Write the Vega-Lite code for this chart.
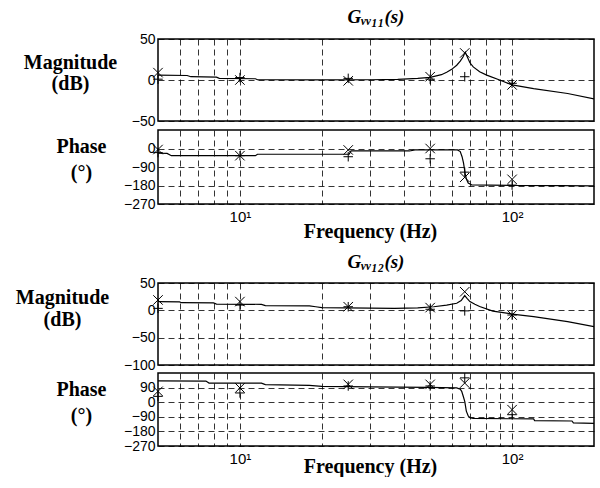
{
  "$schema": "https://vega.github.io/schema/vega-lite/v6.json",
  "padding": {"left": 14, "top": 7, "right": 4, "bottom": 0},
  "background": "white",
  "spacing": 10,
  "config": {
    "view": {"stroke": "black", "strokeWidth": 1.5},
    "axis": {
      "grid": true, "gridColor": "black", "gridDash": [6, 4], "gridWidth": 0.8, "gridOpacity": 1,
      "domain": false, "ticks": false,
      "labelFont": "Liberation Sans", "labelFontSize": 14, "labelColor": "black", "labelPadding": 3,
      "titleFont": "Liberation Serif", "titleFontWeight": "bold", "titleFontSize": 20, "titleColor": "black"
    },
    "title": {"font": "Liberation Serif", "fontSize": 19, "fontWeight": "bold", "fontStyle": "italic", "color": "black", "anchor": "middle", "baseline": "alphabetic", "frame": "group", "offset": 5, "dx": 0},
    "line": {"color": "black", "strokeWidth": 1.2},
    "point": {"filled": false, "color": "black", "strokeWidth": 1, "size": 90, "opacity": 1}
  },
  "datasets": {
    "mag1": [
      {"f": 5, "v": 6}, {"f": 6.4, "v": 5.5}, {"f": 6.6, "v": 4}, {"f": 8.2, "v": 3.5}, {"f": 8.4, "v": 2}, {"f": 11.4, "v": 1.5}, {"f": 11.6, "v": 0.3}, {"f": 20, "v": 0.2}, {"f": 30, "v": 0.3}, {"f": 38, "v": 0.8}, {"f": 45, "v": 2}, {"f": 50, "v": 3.3}, {"f": 55, "v": 6.5}, {"f": 57.5, "v": 9.5}, {"f": 60, "v": 13}, {"f": 62.6, "v": 18}, {"f": 64.5, "v": 23}, {"f": 66, "v": 28}, {"f": 67.3, "v": 34}, {"f": 68.5, "v": 28}, {"f": 70, "v": 21}, {"f": 72, "v": 16}, {"f": 76, "v": 10}, {"f": 80.7, "v": 6}, {"f": 90, "v": 0}, {"f": 100, "v": -6}, {"f": 120, "v": -10.5}, {"f": 160, "v": -16.5}, {"f": 200, "v": -23}
    ],
    "ph1": [
      {"f": 5, "v": -23}, {"f": 5.4, "v": -24}, {"f": 5.6, "v": -35}, {"f": 11.4, "v": -35}, {"f": 11.6, "v": -28}, {"f": 25.2, "v": -28}, {"f": 25.6, "v": -12}, {"f": 42, "v": -12}, {"f": 44, "v": -7}, {"f": 63, "v": -7}, {"f": 64.5, "v": -15}, {"f": 65.5, "v": -40}, {"f": 66.3, "v": -70}, {"f": 67.2, "v": -120}, {"f": 68, "v": -150}, {"f": 69, "v": -168}, {"f": 71, "v": -177}, {"f": 100, "v": -180}, {"f": 150, "v": -181}, {"f": 200, "v": -182}
    ],
    "mag2": [
      {"f": 5, "v": 15.8}, {"f": 6, "v": 15.5}, {"f": 6.1, "v": 14}, {"f": 8, "v": 13.5}, {"f": 8.2, "v": 11.5}, {"f": 12, "v": 11}, {"f": 12.4, "v": 8.5}, {"f": 18, "v": 8}, {"f": 19, "v": 6.6}, {"f": 20, "v": 5}, {"f": 37, "v": 3.6}, {"f": 45, "v": 4.5}, {"f": 51.5, "v": 6.6}, {"f": 57.5, "v": 9.6}, {"f": 62.6, "v": 13}, {"f": 65, "v": 18}, {"f": 67, "v": 27}, {"f": 68.3, "v": 22}, {"f": 70, "v": 16}, {"f": 73, "v": 11}, {"f": 76, "v": 7}, {"f": 85, "v": -1.3}, {"f": 100, "v": -6.8}, {"f": 120, "v": -11.6}, {"f": 160, "v": -20.7}, {"f": 200, "v": -30}
    ],
    "ph2": [
      {"f": 5, "v": 132}, {"f": 7.5, "v": 130}, {"f": 7.7, "v": 118}, {"f": 12, "v": 117}, {"f": 12.4, "v": 108}, {"f": 18, "v": 104}, {"f": 20, "v": 98}, {"f": 30, "v": 94}, {"f": 49, "v": 92}, {"f": 62.6, "v": 88}, {"f": 64.5, "v": 80}, {"f": 65.3, "v": 67}, {"f": 66.2, "v": 35}, {"f": 67, "v": 5}, {"f": 67.9, "v": -55}, {"f": 69, "v": -85}, {"f": 70, "v": -95}, {"f": 72, "v": -100}, {"f": 100, "v": -102}, {"f": 120, "v": -103}, {"f": 121, "v": -113}, {"f": 166, "v": -116}, {"f": 168, "v": -128}, {"f": 200, "v": -130}
    ],
    "mk1m": [
      {"f": 5, "v": 9, "m": "x"}, {"f": 5, "v": 1, "m": "+"}, {"f": 10, "v": 0, "m": "x"}, {"f": 10, "v": 3, "m": "+"}, {"f": 25, "v": -1, "m": "x"}, {"f": 25, "v": 2, "m": "+"}, {"f": 50, "v": 4, "m": "x"}, {"f": 50, "v": 1, "m": "+"}, {"f": 67, "v": 33, "m": "x"}, {"f": 67, "v": 4, "m": "+"}, {"f": 100, "v": -6, "m": "x"}, {"f": 100, "v": -4, "m": "+"}
    ],
    "mk1p": [
      {"f": 5, "v": -5, "m": "x"}, {"f": 5, "v": -20, "m": "+"}, {"f": 10, "v": -35, "m": "x"}, {"f": 10, "v": -35, "m": "+"}, {"f": 25, "v": -7, "m": "x"}, {"f": 25, "v": -40, "m": "+"}, {"f": 50, "v": 0, "m": "x"}, {"f": 50, "v": -50, "m": "+"}, {"f": 67, "v": -140, "m": "x"}, {"f": 67, "v": -115, "m": "+"}, {"f": 100, "v": -150, "m": "x"}, {"f": 100, "v": -178, "m": "+"}
    ],
    "mk2m": [
      {"f": 5, "v": 19, "m": "x"}, {"f": 5, "v": 3.6, "m": "+"}, {"f": 10, "v": 16, "m": "x"}, {"f": 10, "v": 9.6, "m": "+"}, {"f": 25, "v": 6.6, "m": "x"}, {"f": 25, "v": 6.6, "m": "+"}, {"f": 50, "v": 5, "m": "x"}, {"f": 50, "v": 2, "m": "+"}, {"f": 67, "v": 34, "m": "x"}, {"f": 67, "v": -1, "m": "+"}, {"f": 100, "v": -8.6, "m": "x"}, {"f": 100, "v": -8.6, "m": "+"}
    ],
    "mk2p": [
      {"f": 5, "v": 67, "m": "x"}, {"f": 5, "v": 36, "m": "+"}, {"f": 10, "v": 88, "m": "x"}, {"f": 10, "v": 57, "m": "+"}, {"f": 25, "v": 110, "m": "x"}, {"f": 25, "v": 100, "m": "+"}, {"f": 50, "v": 110, "m": "x"}, {"f": 50, "v": 100, "m": "+"}, {"f": 67, "v": 118, "m": "x"}, {"f": 67, "v": 150, "m": "+"}, {"f": 100, "v": -46, "m": "x"}, {"f": 100, "v": -77, "m": "+"}
    ]
  },
  "vconcat": [
    {
      "spacing": 0,
      "vconcat": [
        {
          "width": 436, "height": 82,
          "title": {"text": "Gᵥᵥ₁₁(s)"},
          "encoding": {
            "x": {"field": "f", "type": "quantitative", "scale": {"type": "log", "domain": [5, 200]},
                  "axis": {"values": [6, 7, 8, 9, 10, 20, 30, 40, 50, 60, 70, 80, 90, 100], "labels": false, "title": null, "minExtent": 0}},
            "y": {"field": "v", "type": "quantitative", "scale": {"domain": [-50, 50]},
                  "axis": {"values": [-50, 0, 50], "title": ["Magnitude", "(dB)"], "titleAngle": 0, "titleAlign": "center", "titleBaseline": "alphabetic", "titleX": -88, "titleY": 29, "titleLineHeight": 21}}
          },
          "layer": [
            {"data": {"name": "mag1"}, "mark": {"type": "line", "clip": true}},
            {"data": {"name": "mk1m"}, "mark": {"type": "point"},
             "encoding": {"shape": {"field": "m", "type": "nominal", "scale": {"domain": ["x", "+"], "range": ["M-1,-1L1,1M-1,1L1,-1", "M-1,0L1,0M0,-1L0,1"]}, "legend": null}}}
          ]
        },
        {
          "width": 436, "height": 74,
          "encoding": {
            "x": {"field": "f", "type": "quantitative", "scale": {"type": "log", "domain": [5, 200]},
                  "axis": {"values": [6, 7, 8, 9, 10, 20, 30, 40, 50, 60, 70, 80, 90, 100], "labelExpr": "datum.value == 10 ? '10¹' : datum.value == 100 ? '10²' : ''", "labelOverlap": false, "labelFontSize": 15, "labelPadding": 5, "labelDx": 3,
                           "title": "Frequency (Hz)", "titleAlign": "center", "titleBaseline": "alphabetic", "titleX": 212, "titleY": 33}},
            "y": {"field": "v", "type": "quantitative", "scale": {"domain": [-270, 90]},
                  "axis": {"values": [-270, -180, -90, 0], "title": ["Phase", "(°)"], "titleAngle": 0, "titleAlign": "center", "titleBaseline": "alphabetic", "titleX": -77, "titleY": 22, "titleLineHeight": 26}}
          },
          "layer": [
            {"data": {"name": "ph1"}, "mark": {"type": "line", "clip": true}},
            {"data": {"name": "mk1p"}, "mark": {"type": "point"},
             "encoding": {"shape": {"field": "m", "type": "nominal", "scale": {"domain": ["x", "+"], "range": ["M-1,-1L1,1M-1,1L1,-1", "M-1,0L1,0M0,-1L0,1"]}, "legend": null}}}
          ]
        }
      ]
    },
    {
      "spacing": -4,
      "vconcat": [
        {
          "width": 436, "height": 82,
          "title": {"text": "Gᵥᵥ₁₂(s)", "offset": 4},
          "encoding": {
            "x": {"field": "f", "type": "quantitative", "scale": {"type": "log", "domain": [5, 200]},
                  "axis": {"values": [6, 7, 8, 9, 10, 20, 30, 40, 50, 60, 70, 80, 90, 100], "labels": false, "title": null, "minExtent": 0}},
            "y": {"field": "v", "type": "quantitative", "scale": {"domain": [-100, 50]},
                  "axis": {"values": [-100, -50, 0, 50], "title": ["Magnitude", "(dB)"], "titleAngle": 0, "titleAlign": "center", "titleBaseline": "alphabetic", "titleX": -96, "titleY": 20, "titleLineHeight": 22}}
          },
          "layer": [
            {"data": {"name": "mag2"}, "mark": {"type": "line", "clip": true}},
            {"data": {"name": "mk2m"}, "mark": {"type": "point"},
             "encoding": {"shape": {"field": "m", "type": "nominal", "scale": {"domain": ["x", "+"], "range": ["M-1,-1L1,1M-1,1L1,-1", "M-1,0L1,0M0,-1L0,1"]}, "legend": null}}}
          ]
        },
        {
          "width": 436, "height": 73,
          "encoding": {
            "x": {"field": "f", "type": "quantitative", "scale": {"type": "log", "domain": [5, 200]},
                  "axis": {"values": [6, 7, 8, 9, 10, 20, 30, 40, 50, 60, 70, 80, 90, 100], "labelExpr": "datum.value == 10 ? '10¹' : datum.value == 100 ? '10²' : ''", "labelOverlap": false, "labelFontSize": 15, "labelPadding": 5, "labelDx": 3,
                           "title": "Frequency (Hz)", "titleAlign": "center", "titleBaseline": "alphabetic", "titleX": 212, "titleY": 26}},
            "y": {"field": "v", "type": "quantitative", "scale": {"domain": [-270, 180]},
                  "axis": {"values": [-270, -180, -90, 0, 90], "title": ["Phase", "(°)"], "titleAngle": 0, "titleAlign": "center", "titleBaseline": "alphabetic", "titleX": -77, "titleY": 22, "titleLineHeight": 26}}
          },
          "layer": [
            {"data": {"name": "ph2"}, "mark": {"type": "line", "clip": true}},
            {"data": {"name": "mk2p"}, "mark": {"type": "point"},
             "encoding": {"shape": {"field": "m", "type": "nominal", "scale": {"domain": ["x", "+"], "range": ["M-1,-1L1,1M-1,1L1,-1", "M-1,0L1,0M0,-1L0,1"]}, "legend": null}}}
          ]
        }
      ]
    }
  ]
}
